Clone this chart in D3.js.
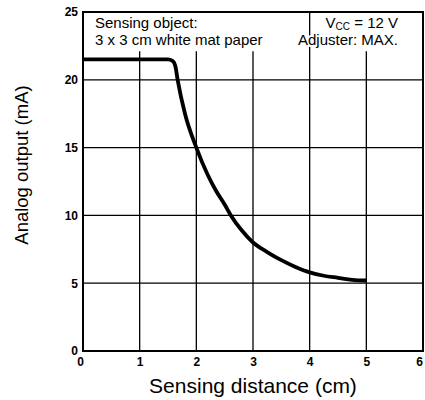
<!DOCTYPE html>
<html>
<head>
<meta charset="utf-8">
<script src="https://cdn.jsdelivr.net/npm/d3@7"></script>
<style>
body { margin: 0; background: #fff; }
svg { display: block; font-family: "Liberation Sans", Arial, sans-serif; }
.note { paint-order: stroke; stroke: #fff; stroke-width: 4px; stroke-linejoin: round; }
</style>
</head>
<body>
<svg id="chart"></svg>
<script>
var screen = {width: 425, height: 400};
var margins = {top: 12, right: 2, bottom: 49, left: 83};

// curve
var distance = [0, 1.5, 1.58, 1.63, 1.67, 1.8, 2.0, 2.2, 2.35, 2.5, 2.61, 2.8, 3.0, 3.25, 3.5, 3.75, 4.0, 4.25, 4.5, 4.75, 5.0];
var output   = [21.5, 21.5, 21.4, 21.0, 20.0, 17.5, 15.0, 13.0, 11.8, 10.8, 10.0, 8.9, 8.0, 7.3, 6.7, 6.2, 5.8, 5.55, 5.4, 5.25, 5.2];

var xTicks = [0, 1, 2, 3, 4, 5, 6];
var yTicks = [0, 5, 10, 15, 20, 25];

var width = screen.width - margins.left - margins.right;
var height = screen.height - margins.top - margins.bottom;

var svg = d3.select("#chart")
    .attr("width", screen.width)
    .attr("height", screen.height)

var g = svg.append("g")
    .attr("transform", "translate(" + margins.left + "," + margins.top + ")")

var xScale = d3.scaleLinear().domain([0, 6]).range([0, width])
var yScale = d3.scaleLinear().domain([0, 25]).range([height, 0])

// vertical grid, stopping under the note text (x=4 runs to the top)
g.selectAll(".vgrid")
    .data([1, 2, 3, 4, 5])
    .enter()
    .append("line")
    .attr("x1", function(d) { return xScale(d) })
    .attr("x2", function(d) { return xScale(d) })
    .attr("y1", yScale(0))
    .attr("y2", function(d) { return d == 4 ? yScale(25) : yScale(22.1) })
    .attr("stroke", "#000")
    .attr("stroke-width", 1.3)

// horizontal grid
g.selectAll(".hgrid")
    .data([5, 10, 15, 20])
    .enter()
    .append("line")
    .attr("x1", 0)
    .attr("x2", width)
    .attr("y1", function(d) { return yScale(d) })
    .attr("y2", function(d) { return yScale(d) })
    .attr("stroke", "#000")
    .attr("stroke-width", 1.3)

// frame
g.append("rect")
    .attr("x", 0)
    .attr("y", 0)
    .attr("width", xScale(6))
    .attr("height", yScale(0))
    .attr("fill", "none")
    .attr("stroke", "#000")
    .attr("stroke-width", 2)

var xAxis = d3.axisBottom(xScale).tickValues(xTicks).tickFormat(d3.format("d")).tickSize(0).tickPadding(6)
var yAxis = d3.axisLeft(yScale).tickValues(yTicks).tickFormat(d3.format("d")).tickSize(0).tickPadding(5)

var xg = g.append("g")
    .attr("transform", "translate(0," + height + ")")
    .call(xAxis)
    .call(function(a) { a.select(".domain").remove() })
xg.selectAll("text")
    .attr("font-size", 12)
    .attr("font-weight", "bold")
    .attr("fill", "#000")
    .attr("font-family", "'Liberation Sans', Arial, sans-serif")
    .attr("dx", function(d) { return d == 0 ? -3 : (d == 6 ? -4 : 0) })

g.append("g")
    .call(yAxis)
    .call(function(a) { a.select(".domain").remove() })
    .selectAll("text")
    .attr("font-size", 12)
    .attr("font-weight", "bold")
    .attr("fill", "#000")
    .attr("font-family", "'Liberation Sans', Arial, sans-serif")

// the curve
var pts = distance.map(function(d, i) { return [d, output[i]] })
g.append("path")
    .datum(pts)
    .attr("fill", "none")
    .attr("stroke", "#000")
    .attr("stroke-width", 3.8)
    .attr("d", d3.line()
        .x(function(d) { return xScale(d[0]) })
        .y(function(d) { return yScale(d[1]) })
        .curve(d3.curveMonotoneX))

// notes
g.append("text").attr("class", "note").attr("x", 12).attr("y", 15.5).attr("font-size", 15).text("Sensing object:")
g.append("text").attr("class", "note").attr("x", 12).attr("y", 33).attr("font-size", 15).text("3 x 3 cm white mat paper")

var vcc = g.append("text").attr("class", "note").attr("x", 315).attr("y", 15.5).attr("font-size", 15).attr("text-anchor", "end")
vcc.append("tspan").text("V")
vcc.append("tspan").attr("font-size", 10).attr("dy", 2).text("CC")
vcc.append("tspan").attr("dy", -2).text(" = 12 V")
g.append("text").attr("class", "note").attr("x", 315).attr("y", 33).attr("font-size", 15).attr("text-anchor", "end").text("Adjuster: MAX.")

// axis titles
svg.append("text")
    .attr("x", 253)
    .attr("y", 393)
    .attr("text-anchor", "middle")
    .attr("font-size", 21)
    .text("Sensing distance (cm)")

svg.append("text")
    .attr("transform", "translate(28,165) rotate(-90)")
    .attr("text-anchor", "middle")
    .attr("font-size", 18.5)
    .text("Analog output (mA)")
</script>
</body>
</html>
